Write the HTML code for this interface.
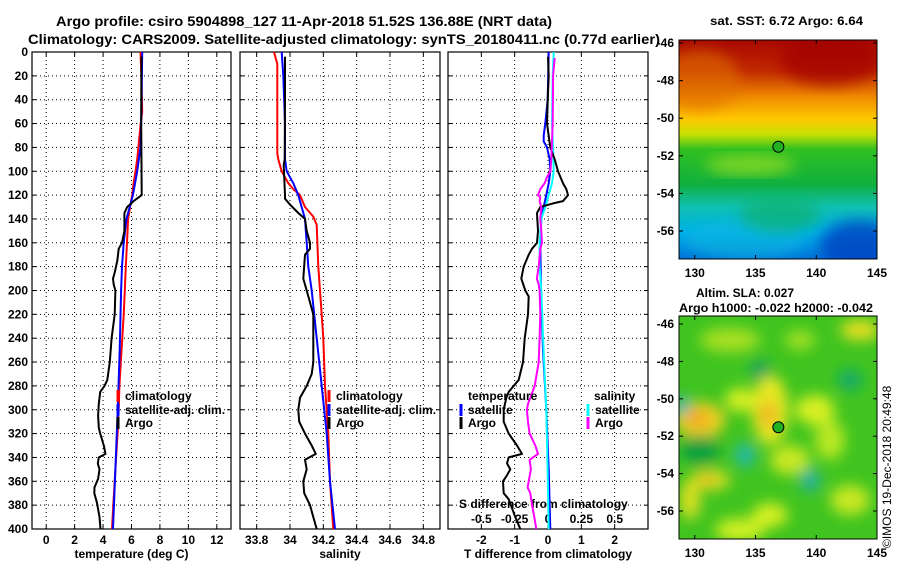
<!DOCTYPE html>
<html><head><meta charset="utf-8"><style>
html,body{margin:0;padding:0;background:#fff;}
svg text{font-family:"Liberation Sans",sans-serif;font-weight:bold;fill:#000;}
</style></head><body>
<svg id="c" width="900" height="580" viewBox="0 0 900 580" xmlns="http://www.w3.org/2000/svg">
<defs>
<linearGradient id="sstg" x1="0" y1="0" x2="0" y2="1">
<stop offset="0" stop-color="#a80800"/><stop offset="0.14" stop-color="#c02800"/>
<stop offset="0.26" stop-color="#f08a00"/><stop offset="0.36" stop-color="#ffc800"/>
<stop offset="0.43" stop-color="#c8e000"/><stop offset="0.5" stop-color="#30c020"/>
<stop offset="0.66" stop-color="#10b040"/><stop offset="0.76" stop-color="#10c0b0"/>
<stop offset="0.88" stop-color="#00b0e8"/><stop offset="1" stop-color="#0070d8"/>
</linearGradient>
<filter id="blur" x="-20%" y="-20%" width="140%" height="140%"><feGaussianBlur stdDeviation="7"/></filter>
<clipPath id="m1c"><rect x="679" y="40" width="198" height="219"/></clipPath>
<clipPath id="m2c"><rect x="679" y="316" width="198" height="223"/></clipPath>
</defs>
<text x="56" y="26" font-size="14" textLength="496" lengthAdjust="spacingAndGlyphs">Argo profile: csiro 5904898_127 11-Apr-2018 51.52S 136.88E (NRT data)</text>
<text x="28" y="44" font-size="14" textLength="632" lengthAdjust="spacingAndGlyphs">Climatology: CARS2009. Satellite-adjusted climatology: synTS_20180411.nc (0.77d earlier)</text>
<text x="710" y="25" font-size="12" textLength="153" lengthAdjust="spacingAndGlyphs">sat. SST: 6.72 Argo: 6.64</text>
<text x="696" y="297" font-size="12">Altim. SLA: 0.027</text>
<text x="679" y="312" font-size="12" textLength="194" lengthAdjust="spacingAndGlyphs">Argo h1000: -0.022 h2000: -0.042</text>
<g id="map1" clip-path="url(#m1c)">
<rect x="679" y="40" width="198" height="219" fill="url(#sstg)"/>
<ellipse cx="700" cy="80" rx="40" ry="30" fill="#e07000" opacity="0.6" filter="url(#blur)"/>
<ellipse cx="830" cy="60" rx="50" ry="25" fill="#a00000" opacity="0.7" filter="url(#blur)"/>
<ellipse cx="750" cy="165" rx="45" ry="10" fill="#a0e020" opacity="0.7" filter="url(#blur)"/>
<ellipse cx="745" cy="240" rx="60" ry="20" fill="#10b8e0" opacity="0.6" filter="url(#blur)"/>
<ellipse cx="860" cy="245" rx="40" ry="25" fill="#0040c0" opacity="0.8" filter="url(#blur)"/>
<ellipse cx="780" cy="215" rx="40" ry="18" fill="#10b060" opacity="0.6" filter="url(#blur)"/>
</g>
<rect x="679" y="40" width="198" height="219" fill="none" stroke="#000"/>
<g id="map2" clip-path="url(#m2c)">
<rect x="679" y="316" width="198" height="223" fill="#40c420"/>
<g filter="url(#blur)">
<ellipse cx="700" cy="420" rx="25" ry="18" fill="#f0d020"/>
<ellipse cx="697" cy="418" rx="12" ry="8" fill="#f0a020"/>
<ellipse cx="770" cy="410" rx="18" ry="35" fill="#e8e820"/>
<ellipse cx="768" cy="415" rx="8" ry="14" fill="#f0b020"/>
<ellipse cx="740" cy="400" rx="15" ry="12" fill="#d8f020"/>
<ellipse cx="710" cy="480" rx="20" ry="10" fill="#e0e020"/>
<ellipse cx="707" cy="480" rx="8" ry="5" fill="#f0b020"/>
<ellipse cx="815" cy="410" rx="20" ry="15" fill="#d8f020"/>
<ellipse cx="790" cy="460" rx="20" ry="15" fill="#c8e820"/>
<ellipse cx="770" cy="515" rx="18" ry="12" fill="#d8f020"/>
<ellipse cx="740" cy="530" rx="25" ry="12" fill="#d0f020"/>
<ellipse cx="850" cy="500" rx="20" ry="15" fill="#c8e820"/>
<ellipse cx="860" cy="330" rx="20" ry="10" fill="#e8e020"/>
<ellipse cx="730" cy="340" rx="30" ry="12" fill="#a8e020"/>
<ellipse cx="830" cy="440" rx="15" ry="20" fill="#b8e820"/>
<ellipse cx="690" cy="500" rx="10" ry="20" fill="#e0e020"/>
<ellipse cx="800" cy="340" rx="15" ry="10" fill="#a0e020"/>
<ellipse cx="760" cy="370" rx="10" ry="10" fill="#10a060"/>
<ellipse cx="745" cy="455" rx="10" ry="12" fill="#20b8b0"/>
<ellipse cx="850" cy="380" rx="12" ry="10" fill="#10a870"/>
<ellipse cx="810" cy="480" rx="10" ry="12" fill="#20b0a0"/>
<ellipse cx="682" cy="405" rx="6" ry="10" fill="#20b0d0"/>
<ellipse cx="700" cy="450" rx="20" ry="15" fill="#10a040"/>
</g>
</g>
<rect x="679" y="316" width="198" height="223" fill="none" stroke="#000"/>
<text transform="translate(891,548) rotate(-90)" font-size="12" style="font-weight:normal">©IMOS 19-Dec-2018 20:49:48</text>
</svg>
<script>
// ---- data ----
const depthTicks=[0,20,40,60,80,100,120,140,160,180,200,220,240,260,280,300,320,340,360,380,400];
const tempTicks=[0,2,4,6,8,10,12];
const salTicks=[33.8,34,34.2,34.4,34.6,34.8];
const salTickLabels=["33.8","34","34.2","34.4","34.6","34.8"];
const tdiffTicks=[-2,-1,0,1,2];
const sdiffTicks=[-0.5,-0.25,0,0.25,0.5];
const latTicks=[-46,-48,-50,-52,-54,-56];
const lonTicks=[130,135,140,145];
const argoPos=[136.88,-51.52];

const climTDepth=[0,20,50,60,90,100,110,120,130,140,160,180,200,220,240,260,280,300,320,340,360,380,400];
const climT=[6.63,6.7,6.75,6.65,6.4,6.28,6.15,6.05,5.9,5.76,5.68,5.6,5.53,5.45,5.35,5.25,5.15,5.1,5.02,4.92,4.82,4.72,4.63];
const satTDepth=[0,50,80,100,120,140,160,180,200,250,300,350,400];
const satT=[6.75,6.7,6.63,6.4,6.1,5.65,5.45,5.33,5.27,5.17,5.03,4.87,4.7];
const argoTDepth=[4,60,120,125,130,135,150,160,165,175,185,190,195,200,220,240,260,275,280,285,295,305,315,320,330,337,340,345,350,358,365,370,378,390,400];
const argoT=[6.7,6.68,6.72,6.15,5.7,5.5,5.5,5.33,5.1,5.0,4.82,4.7,4.75,4.87,4.82,4.6,4.47,4.3,4.1,3.8,3.7,3.65,3.7,3.8,4.05,4.17,3.7,3.63,3.75,3.65,3.4,3.38,3.57,3.75,3.82];

const climSDepth=[0,10,30,85,90,100,110,115,120,130,138,145,180,200,240,280,320,360,400];
const climS=[33.904,33.924,33.924,33.924,33.93,33.95,33.99,34.02,34.06,34.09,34.14,34.16,34.17,34.18,34.2,34.21,34.23,34.24,34.26];
const satSDepth=[0,20,60,90,100,110,120,140,160,180,200,240,280,320,360,400];
const satS=[33.95,33.96,33.97,33.97,33.98,34.02,34.05,34.09,34.1,34.11,34.13,34.16,34.19,34.22,34.24,34.27];
const argoSDepth=[4,40,90,95,120,123,128,135,140,150,160,165,170,190,200,220,260,270,280,290,300,310,320,330,337,342,350,360,370,380,390,400];
const argoS=[33.97,33.97,33.968,33.962,33.97,33.97,34.0,34.05,34.09,34.1,34.12,34.12,34.09,34.08,34.1,34.14,34.14,34.13,34.1,34.06,34.05,34.055,34.09,34.13,34.155,34.09,34.1,34.08,34.085,34.12,34.14,34.16];

const dTArgoDepth=[4,20,40,60,80,90,100,110,115,120,125,127,130,135,150,160,165,170,180,190,200,205,220,240,260,275,280,285,290,300,310,320,330,337,340,345,350,355,360,370,375,390,400];
const dTArgo=[0,0.02,-0.01,-0.03,0.07,0.2,0.3,0.45,0.55,0.6,0.45,0.15,-0.23,-0.33,-0.3,-0.33,-0.48,-0.58,-0.73,-0.8,-0.68,-0.58,-0.6,-0.7,-0.75,-0.88,-1.03,-1.18,-1.25,-1.33,-1.33,-1.18,-0.93,-0.78,-1.18,-1.23,-1.13,-1.23,-1.35,-1.33,-1.18,-0.98,-0.83];
const dTSatDepth=[0,40,60,70,75,80,90,100,110,120,130,140,160,200,250,300,350,400];
const dTSat=[0.02,-0.01,-0.08,-0.13,-0.13,-0.03,0.05,0.07,0.02,-0.05,-0.13,-0.2,-0.23,-0.21,-0.15,-0.05,0.02,0.07];
const dSSatDepth=[0,20,60,80,100,110,120,130,140,160,180,200,250,300,350,400];
const dSSat=[0.043,0.035,0.03,0.038,0.043,0.03,0.005,-0.02,-0.05,-0.063,-0.063,-0.05,-0.033,-0.013,-0.003,0.005];
const dSArgoDepth=[5,20,60,90,100,105,110,115,120,122,125,130,140,150,160,165,180,190,195,200,220,240,260,280,290,295,300,310,320,330,337,342,350,360,365,370,380,390,400];
const dSArgo=[0.05,0.038,0.035,0.025,0.018,-0.008,-0.025,-0.058,-0.075,-0.058,-0.063,-0.05,-0.058,-0.05,-0.045,-0.058,-0.07,-0.083,-0.07,-0.063,-0.058,-0.063,-0.07,-0.1,-0.133,-0.15,-0.158,-0.15,-0.138,-0.095,-0.075,-0.138,-0.128,-0.145,-0.153,-0.133,-0.12,-0.103,-0.088];

// ---- axes ----
const NS='http://www.w3.org/2000/svg';
const svg=document.getElementById('c');
const Y0=52,Y1=529;
const yD=d=>Y0+d*(Y1-Y0)/400;
function lin(d0,d1,r0,r1){return v=>r0+(v-d0)*(r1-r0)/(d1-d0);}
const P1={x0:32,x1:231},P2={x0:240,x1:440},P3={x0:448,x1:648};
const xT=lin(-1,13,P1.x0,P1.x1);
const xS=lin(33.7,34.9,P2.x0,P2.x1);
const xDT=lin(-3,3,P3.x0,P3.x1);
const xDS=v=>xDT(v*4);
const lonX=lin(128.7,145,679,877);
const lat1Y=lin(-46,-56,43,231);
const lat2Y=lin(-46,-56,324,511);

function mk(tag,attrs,parent){const e=document.createElementNS(NS,tag);for(const k in attrs)e.setAttribute(k,attrs[k]);(parent||svg).appendChild(e);return e;}

function panel(name,P,ticks,xf,labels,title){
  const g=mk('g',{});
  
  
  depthTicks.forEach(d=>{
    if(d>0&&d<400){const l=mk('line',{x1:P.x0,x2:P.x1,y1:yD(d),y2:yD(d),stroke:'#000','stroke-width':1,'stroke-dasharray':'1,3'},g);
    
    }
    mk('line',{x1:P.x0,x2:P.x0+4,y1:yD(d),y2:yD(d),stroke:'#000'},g);
    mk('line',{x1:P.x1-4,x2:P.x1,y1:yD(d),y2:yD(d),stroke:'#000'},g);
  });
  ticks.forEach((t,i)=>{
    const x=xf(t);
    const l=mk('line',{x1:x,x2:x,y1:Y0,y2:Y1,stroke:'#000','stroke-dasharray':'1,3'},g);
    
    
    mk('line',{x1:x,x2:x,y1:Y1-4,y2:Y1,stroke:'#000'},g);
    mk('line',{x1:x,x2:x,y1:Y0,y2:Y0+4,stroke:'#000'},g);
    const tx=mk('text',{x:x,y:544,'font-size':12,'text-anchor':'middle'},g);
    tx.textContent=labels?labels[i]:String(t);
    
    
  });
  const fr=mk('rect',{x:P.x0,y:Y0,width:P.x1-P.x0,height:Y1-Y0,fill:'none',stroke:'#000','stroke-width':1.2},g);
  
  
  const tt=mk('text',{x:(P.x0+P.x1)/2,y:558,'font-size':12,'text-anchor':'middle'});
  tt.textContent=title;
  
  
}
panel('temperature-panel',P1,tempTicks,xT,null,'temperature (deg C)');
panel('salinity-panel',P2,salTicks,xS,salTickLabels,'salinity');
panel('t-difference-panel',P3,tdiffTicks,xDT,null,'T difference from climatology');

depthTicks.forEach(d=>{
  const t=mk('text',{x:28,y:yD(d)+4,'font-size':12,'text-anchor':'end'});
  t.textContent=String(d);
  
  
});
sdiffTicks.forEach(s=>{
  const t=mk('text',{x:xDS(s),y:523,'font-size':12,'text-anchor':'middle'});
  t.textContent=String(s);
  
  
});
{const t=mk('text',{x:459,y:508,'font-size':12});t.textContent='S difference from climatology';

}

function series(name,depths,vals,xf,color,w){
  const pts=depths.map((d,i)=>xf(vals[i]).toFixed(1)+','+yD(d).toFixed(1)).join(' ');
  const p=mk('polyline',{points:pts,fill:'none',stroke:color,'stroke-width':w||2,'stroke-linejoin':'round'});
  
  
}
series('temp-climatology-line',climTDepth,climT,xT,'#ff0000');
series('temp-satellite-line',satTDepth,satT,xT,'#0000ff');
series('temp-argo-line',argoTDepth,argoT,xT,'#000000');
series('sal-climatology-line',climSDepth,climS,xS,'#ff0000');
series('sal-satellite-line',satSDepth,satS,xS,'#0000ff');
series('sal-argo-line',argoSDepth,argoS,xS,'#000000');
series('tdiff-satellite-line',dTSatDepth,dTSat,xDT,'#0000ff');
series('sdiff-satellite-line',dSSatDepth,dSSat,xDS,'#00ffff');
series('tdiff-argo-line',dTArgoDepth,dTArgo,xDT,'#000000');
series('sdiff-argo-line',dSArgoDepth,dSArgo,xDS,'#ff00ff');

function legend(x,y,color,label,name){
  const m=mk('rect',{x:x-1.5,y:y-10,width:3,height:12,fill:color});
  
  
  const t=mk('text',{x:x+7,y:y,'font-size':12});t.textContent=label;
  
  
}
legend(118,400,'#ff0000','climatology','legend-t-climatology');
legend(118,414,'#0000ff','satellite-adj. clim.','legend-t-satellite');
legend(118,427,'#000','Argo','legend-t-argo');
legend(329,400,'#ff0000','climatology','legend-s-climatology');
legend(329,414,'#0000ff','satellite-adj. clim.','legend-s-satellite');
legend(329,427,'#000','Argo','legend-s-argo');
{const t=mk('text',{x:468,y:400,'font-size':12});t.textContent='temperature';


const t2=mk('text',{x:594,y:400,'font-size':12});t2.textContent='salinity';

}
legend(461,414,'#0000ff','satellite','legend-dt-satellite');
legend(461,427,'#000','Argo','legend-dt-argo');
legend(588,414,'#00ffff','satellite','legend-ds-satellite');
legend(588,427,'#ff00ff','Argo','legend-ds-argo');

function mapAxes(latY,yTop,yBot,name){
  latTicks.forEach(l=>{
    const y=latY(l);
    mk('line',{x1:679,x2:683,y1:y,y2:y,stroke:'#000'});
    mk('line',{x1:873,x2:877,y1:y,y2:y,stroke:'#000'});
    const t=mk('text',{x:674,y:y+4,'font-size':12,'text-anchor':'end'});t.textContent=String(l);
    
    
  });
  lonTicks.forEach(l=>{
    const x=lonX(l);
    mk('line',{x1:x,x2:x,y1:yBot-4,y2:yBot,stroke:'#000'});
    mk('line',{x1:x,x2:x,y1:yTop,y2:yTop+4,stroke:'#000'});
    const t=mk('text',{x:x,y:yBot+18,'font-size':12,'text-anchor':'middle'});t.textContent=String(l);
    
    
  });
  const c=mk('circle',{cx:lonX(argoPos[0]),cy:latY(argoPos[1]),r:5.5,fill:'#20b020',stroke:'#000','stroke-width':1});
  
  
}
mapAxes(lat1Y,40,259,'sst-map');
mapAxes(lat2Y,316,539,'sla-map');
</script>
</body></html>
